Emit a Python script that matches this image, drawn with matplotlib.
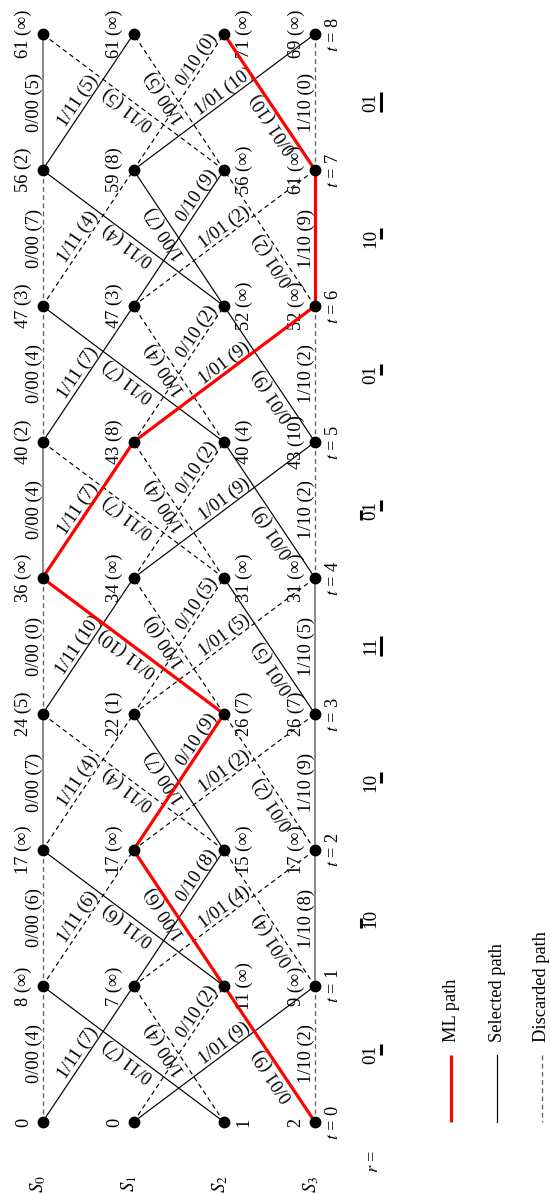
import numpy as np
import matplotlib
matplotlib.use('Agg')
import matplotlib.pyplot as plt

plt.rcParams['font.family'] = ['Liberation Serif', 'DejaVu Serif']
plt.rcParams['mathtext.fontset'] = 'stix'
plt.rcParams['lines.scale_dashes'] = False

# ---------------- data ----------------
state_names = ['$S_0$', '$S_1$', '$S_2$', '$S_3$']
time_labels = ['$t$ = %d' % k for k in range(9)]
# trellis branches: from state -> to state, input/output label
br_from = [0, 0, 2, 2, 1, 1, 3, 3]
br_to = [0, 1, 0, 1, 2, 3, 2, 3]
br_text = ['0/00', '1/11', '0/11', '1/00', '0/10', '1/01', '0/01', '1/10']
# branch metrics for each time step (same order as br_text)
br_metric = [
    [4, 7, 7, 4, 2, 9, 9, 2],
    [6, 6, 6, 6, 8, 4, 4, 8],
    [7, 4, 4, 7, 9, 2, 2, 9],
    [0, 10, 10, 0, 5, 5, 5, 5],
    [4, 7, 7, 4, 2, 9, 9, 2],
    [4, 7, 7, 4, 2, 9, 9, 2],
    [7, 4, 4, 7, 9, 2, 2, 9],
    [5, 5, 5, 5, 0, 10, 10, 0],
]
# S = selected path, D = discarded path, M = ML path
br_status = ['DSSDDSMD', 'DDSMSDDS', 'SDDSMDDS', 'DSMDDDSS',
             'SMDDDSSD', 'DSSDDMSD', 'DDSSSDDM', 'SSDDDSMD']
# accumulated state metrics and (difference) per time
node_metric = [[0, 0, 1, 2], [8, 7, 11, 9], [17, 17, 15, 17], [24, 22, 26, 26],
               [36, 34, 31, 31], [40, 43, 40, 43], [47, 47, 52, 52],
               [56, 59, 56, 61], [61, 61, 71, 69]]
INF = '∞'
node_diff = [[None, None, None, None], [INF, INF, INF, INF], [INF, INF, INF, INF],
             ['5', '1', '7', '7'], [INF, INF, INF, INF], ['2', '8', '4', '10'],
             ['3', '3', INF, INF], ['2', '8', INF, INF], [INF, INF, INF, INF]]
# received sequence r, with underline / overline marks per bit
r_bits = ['01', '10', '10', '11', '01', '01', '10', '01']
r_under = ['01', '00', '01', '11', '01', '01', '01', '11']
r_over = ['00', '10', '00', '00', '10', '00', '00', '00']
legend_labels = ['ML path', 'Selected path', 'Discarded path']

# ---------------- layout ----------------
W, H = 550, 1194
fig = plt.figure(figsize=(W / 100, H / 100), dpi=100)
ax = fig.add_axes([0, 0, 1, 1])
ax.set_xlim(0, W)
ax.set_ylim(H, 0)
ax.axis('off')

sx = [42.5, 133.5, 224.0, 315.0]
def ty(t):
    return 1122.0 - 136.0 * t

FS = 13.2
label_pos = [0.5, 0.47, 0.5, 0.57, 0.78, 0.53, 0.38, 0.5]
OFF = 8.5
dash = (0, (3.4, 2.5))

for k in range(8):
    for b in range(8):
        x0, y0 = sx[br_from[b]], ty(k)
        x1, y1 = sx[br_to[b]], ty(k + 1)
        st = br_status[k][b]
        vert = (br_from[b] == br_to[b])
        if st == 'M':
            ax.plot([x0, x1], [y0, y1], color='red', lw=2.3, zorder=4,
                    solid_capstyle='butt')
        elif st == 'S':
            ax.plot([x0, x1], [y0, y1], color='0.45' if vert else 'black',
                    lw=1.2 if vert else 0.85, zorder=2)
        else:
            ax.plot([x0, x1], [y0, y1], color='0.4' if vert else 'black',
                    lw=1.0 if vert else 0.85, ls=dash, zorder=2)
        # label
        ang = np.degrees(np.arctan2(-(y1 - y0), x1 - x0))
        ua = np.radians(ang + 90)
        ux, uy = np.cos(ua), -np.sin(ua)
        p = label_pos[b]
        px = x0 + p * (x1 - x0) + OFF * ux
        py = y0 + p * (y1 - y0) + OFF * uy
        ax.text(px, py, '%s (%d)' % (br_text[b], br_metric[k][b]),
                rotation=ang, rotation_mode='anchor', ha='center',
                va='center', fontsize=FS, zorder=3)

# nodes and node labels
for t in range(9):
    for s in range(4):
        ax.plot(sx[s], ty(t), 'o', color='black', ms=7.5, zorder=5)
        d = node_diff[t][s]
        txt = str(node_metric[t][s]) if d is None else '%d (%s)' % (node_metric[t][s], d)
        xx = sx[s] + 20 if s == 2 else sx[s] - 19
        ax.text(xx, ty(t), txt, rotation=90, rotation_mode='anchor',
                ha='center', va='center', fontsize=FS, zorder=3)
    ax.text(334, ty(t), time_labels[t], rotation=90, rotation_mode='anchor',
            ha='center', va='center', fontsize=FS)

# state names
for s in range(4):
    ax.text(sx[s] - 4, 1184, state_names[s], rotation=90, rotation_mode='anchor',
            ha='center', va='center', fontsize=FS + 0.5)
ax.text(373, 1161, '$r$ =', rotation=90, rotation_mode='anchor',
        ha='center', va='center', fontsize=FS)

# received sequence with marks
em = (FS + 0.5) * 100 / 72.0
cw = 0.5 * em
for k in range(8):
    ym = (ty(k) + ty(k + 1)) / 2
    ax.text(371, ym, r_bits[k], rotation=90, rotation_mode='anchor',
            ha='center', va='center', fontsize=FS + 0.5)
    for i in range(2):
        ya = ym + cw - i * cw
        yb = ya - cw
        if r_under[k][i] == '1':
            ax.plot([381, 381], [ya + 0.5, yb - 0.5], color='black', lw=2.2,
                    solid_capstyle='butt')
        if r_over[k][i] == '1':
            ax.plot([361, 361], [ya + 0.5, yb - 0.5], color='black', lw=2.2,
                    solid_capstyle='butt')

# legend
lx = [451, 497, 542]
ax.plot([lx[0], lx[0]], [1055, 1122], color='red', lw=2.3, solid_capstyle='butt')
ax.plot([lx[1], lx[1]], [1055, 1122], color='black', lw=0.85)
ax.plot([lx[2], lx[2]], [1055, 1122], color='0.4', lw=1.0, ls=dash)
for i in range(3):
    ax.text(lx[i], 1042, legend_labels[i], rotation=90, rotation_mode='anchor',
            ha='left', va='center', fontsize=FS)

fig.savefig('out.png', dpi=100)
